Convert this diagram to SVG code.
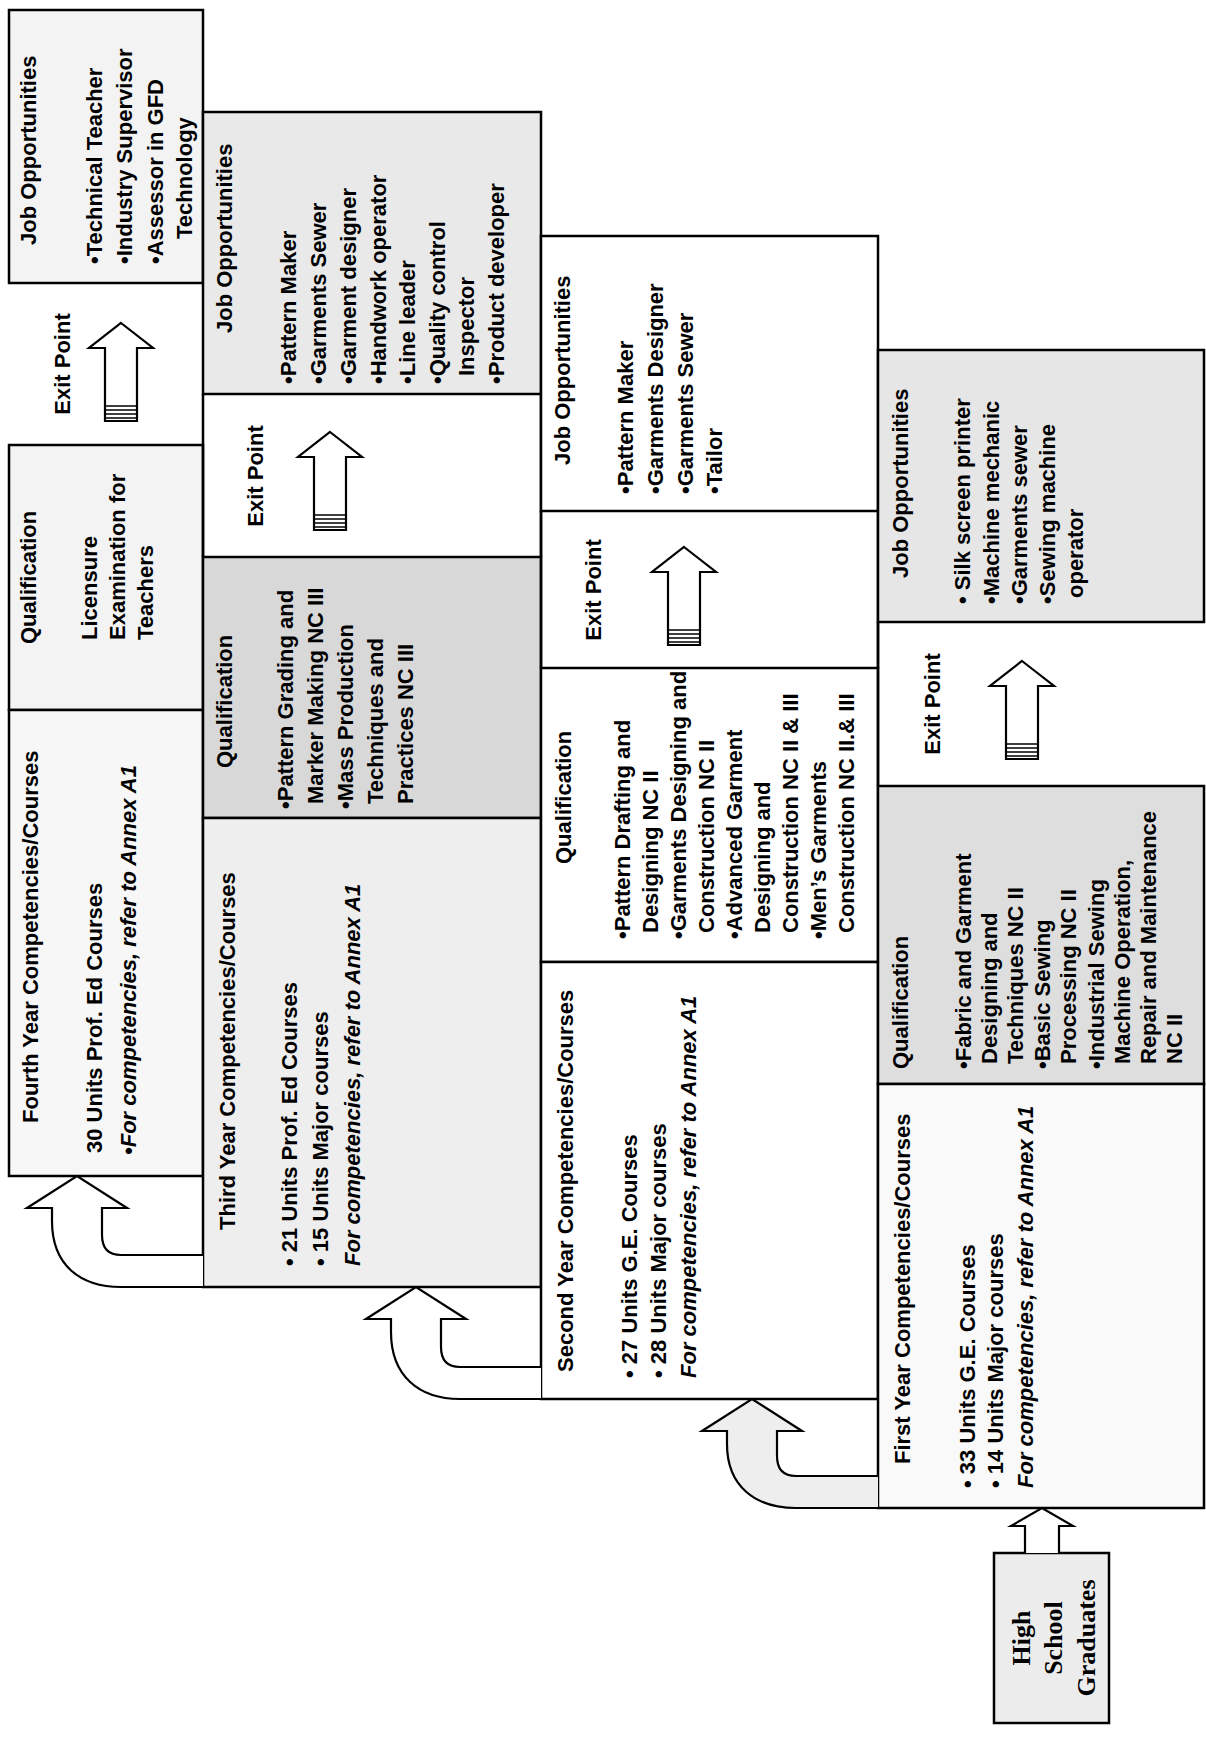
<svg xmlns="http://www.w3.org/2000/svg" xmlns:xlink="http://www.w3.org/1999/xlink" width="1206" height="1755" viewBox="0 0 1206 1755">
<style>
.box{stroke:#000;stroke-width:2.5}
.ln{stroke:#000;stroke-width:2.5;fill:none}
.t{font-family:"Liberation Sans",Arial,sans-serif;font-weight:bold;font-size:22px;fill:#000}
.i{font-style:italic}
.m{text-anchor:middle}
.hs{font-family:"Liberation Serif","Times New Roman",serif;font-weight:bold;font-size:26px;fill:#000;text-anchor:middle}
.arr{fill:#fff;stroke:#000;stroke-width:2.2;stroke-linejoin:miter}
.arrg{fill:#eeeeee;stroke:#000;stroke-width:2.2}
.str{stroke:#000;stroke-width:1.6}
</style>
<defs>
<g id="exitArrow">
<path class="arr" d="M0,0 L32,25 L16,25 L16,98 L-16,98 L-16,25 L-32,25 Z"/>
<path class="str" d="M-16,83 H16 M-16,87 H16 M-16,91 H16 M-16,95 H16"/>
</g>
</defs>
<rect width="1206" height="1755" fill="#fff"/>

<!-- Column 4 (Fourth year) -->
<g id="y4-job">
<rect class="box" x="9" y="10" width="194" height="273" fill="#f3f3f3"/>
<g transform="translate(9,283) rotate(-90)">
<text class="t" x="38" y="27">Job Opportunities</text>
<text class="t" x="19" y="93">•Technical Teacher</text>
<text class="t" x="19" y="123">•Industry Supervisor</text>
<text class="t" x="19" y="154">•Assessor in GFD</text>
<text class="t" x="44" y="183">Technology</text>
</g>
</g>
<g id="y4-exit">
<text class="t m" transform="translate(70,364) rotate(-90)">Exit Point</text>
</g>
<g id="y4-qual">
<rect class="box" x="9" y="445" width="194" height="265" fill="#f3f3f3"/>
<g transform="translate(9,710) rotate(-90)">
<text class="t" x="66" y="27">Qualification</text>
<text class="t" x="70" y="88">Licensure</text>
<text class="t" x="70" y="116">Examination for</text>
<text class="t" x="70" y="144">Teachers</text>
</g>
</g>
<g id="y4-courses">
<rect class="box" x="9" y="710" width="194" height="466" fill="#f7f7f7"/>
<g transform="translate(9,1176) rotate(-90)">
<text class="t" x="53" y="29">Fourth Year Competencies/Courses</text>
<text class="t" x="23" y="93">30 Units Prof. Ed Courses</text>
<text class="t i" x="21" y="127">•For competencies, refer to Annex A1</text>
</g>
</g>

<!-- Column 3 (Third year) -->
<g id="y3-job">
<rect class="box" x="203" y="112" width="338" height="282" fill="#e9e9e9"/>
<g transform="translate(203,394) rotate(-90)">
<text class="t" x="61" y="29">Job Opportunities</text>
<text class="t" x="10" y="93">•Pattern Maker</text>
<text class="t" x="10" y="123">•Garments Sewer</text>
<text class="t" x="10" y="153">•Garment designer</text>
<text class="t" x="10" y="183">•Handwork operator</text>
<text class="t" x="10" y="212">•Line leader</text>
<text class="t" x="10" y="242">•Quality control</text>
<text class="t" x="18" y="271">Inspector</text>
<text class="t" x="10" y="301">•Product developer</text>
</g>
</g>
<g id="y3-exit">
<path class="ln" d="M203,394 V557 M541,394 V557"/>
<text class="t m" transform="translate(263,476) rotate(-90)">Exit Point</text>
</g>
<g id="y3-qual">
<rect class="box" x="203" y="557" width="338" height="261" fill="#d8d8d8"/>
<g transform="translate(203,818) rotate(-90)">
<text class="t" x="50" y="29">Qualification</text>
<text class="t" x="9" y="90">•Pattern Grading and</text>
<text class="t" x="14" y="120">Marker Making NC III</text>
<text class="t" x="9" y="150">•Mass Production</text>
<text class="t" x="14" y="180">Techniques and</text>
<text class="t" x="14" y="210">Practices NC III</text>
</g>
</g>
<g id="y3-courses">
<rect class="box" x="203" y="818" width="338" height="469" fill="#eeeeee"/>
<g transform="translate(203,1287) rotate(-90)">
<text class="t" x="57" y="32">Third Year Competencies/Courses</text>
<text class="t" x="21" y="94">• 21 Units Prof. Ed Courses</text>
<text class="t" x="21" y="125">• 15 Units Major courses</text>
<text class="t i" x="21" y="157">For competencies, refer to Annex A1</text>
</g>
</g>

<!-- Column 2 (Second year) -->
<g id="y2-job">
<rect class="box" x="541" y="236" width="337" height="275" fill="#fff"/>
<g transform="translate(541,511) rotate(-90)">
<text class="t" x="46" y="29">Job Opportunities</text>
<text class="t" x="17" y="92">•Pattern Maker</text>
<text class="t" x="17" y="122">•Garments Designer</text>
<text class="t" x="17" y="152">•Garments Sewer</text>
<text class="t" x="17" y="181">•Tailor</text>
</g>
</g>
<g id="y2-exit">
<path class="ln" d="M541,511 V668 M878,511 V668"/>
<text class="t m" transform="translate(601,590) rotate(-90)">Exit Point</text>
</g>
<g id="y2-qual">
<rect class="box" x="541" y="668" width="337" height="294" fill="#fff"/>
<g transform="translate(541,962) rotate(-90)">
<text class="t" x="98" y="30">Qualification</text>
<text class="t" x="23" y="89">•Pattern Drafting and</text>
<text class="t" x="29" y="117">Designing NC II</text>
<text class="t" x="23" y="145">•Garments Designing and</text>
<text class="t" x="29" y="173">Construction NC II</text>
<text class="t" x="23" y="201">•Advanced Garment</text>
<text class="t" x="29" y="229">Designing and</text>
<text class="t" x="29" y="257">Construction NC II &amp; III</text>
<text class="t" x="23" y="285">•Men’s Garments</text>
<text class="t" x="29" y="313">Construction NC II.&amp; III</text>
</g>
</g>
<g id="y2-courses">
<rect class="box" x="541" y="962" width="337" height="437" fill="#fff"/>
<g transform="translate(541,1399) rotate(-90)">
<text class="t" x="27" y="32">Second Year Competencies/Courses</text>
<text class="t" x="21" y="96">• 27 Units G.E. Courses</text>
<text class="t" x="21" y="125">• 28 Units Major courses</text>
<text class="t i" x="21" y="155">For competencies, refer to Annex A1</text>
</g>
</g>

<!-- Column 1 (First year) -->
<g id="y1-job">
<rect class="box" x="878" y="350" width="326" height="272" fill="#e6e6e6"/>
<g transform="translate(878,622) rotate(-90)">
<text class="t" x="44" y="30">Job Opportunities</text>
<text class="t" x="18" y="92">• Silk screen printer</text>
<text class="t" x="18" y="121">•Machine mechanic</text>
<text class="t" x="18" y="149">•Garments sewer</text>
<text class="t" x="18" y="177">•Sewing machine</text>
<text class="t" x="24" y="205">operator</text>
</g>
</g>
<g id="y1-exit">
<path class="ln" d="M878,622 V786"/>
<text class="t m" transform="translate(940,704) rotate(-90)">Exit Point</text>
</g>
<g id="y1-qual">
<rect class="box" x="878" y="786" width="326" height="298" fill="#dedede"/>
<g transform="translate(878,1084) rotate(-90)">
<text class="t" x="15" y="30">Qualification</text>
<text class="t" x="15" y="93">•Fabric and Garment</text>
<text class="t" x="20" y="119">Designing and</text>
<text class="t" x="20" y="145">Techniques NC II</text>
<text class="t" x="15" y="172">•Basic Sewing</text>
<text class="t" x="20" y="198">Processing NC II</text>
<text class="t" x="15" y="226">•Industrial Sewing</text>
<text class="t" x="20" y="252">Machine Operation,</text>
<text class="t" x="20" y="278">Repair and Maintenance</text>
<text class="t" x="20" y="304">NC II</text>
</g>
</g>
<g id="y1-courses">
<rect class="box" x="878" y="1084" width="326" height="424" fill="#f9f9f9"/>
<g transform="translate(878,1508) rotate(-90)">
<text class="t" x="44" y="32">First Year Competencies/Courses</text>
<text class="t" x="20" y="97">• 33 Units G.E. Courses</text>
<text class="t" x="20" y="125">• 14 Units Major courses</text>
<text class="t i" x="20" y="155">For competencies, refer to Annex A1</text>
</g>
</g>

<g id="high-school">
<rect class="box" x="994" y="1553" width="115" height="170" fill="#ececec"/>
<g transform="translate(994,1638) rotate(-90)">
<text class="hs" x="0" y="36">High</text>
<text class="hs" x="0" y="68">School</text>
<text class="hs" x="0" y="101">Graduates</text>
</g>
</g>

<!-- Connectors -->
<g id="connectors">
<use xlink:href="#exitArrow" href="#exitArrow" x="121" y="323"/>
<use xlink:href="#exitArrow" href="#exitArrow" x="330" y="432"/>
<use xlink:href="#exitArrow" href="#exitArrow" x="684" y="547"/>
<use xlink:href="#exitArrow" href="#exitArrow" x="1022" y="661"/>
<path class="arr" d="M203,1255 L121,1255 Q102,1255 102,1235 L102,1208 L127,1208 L77,1176 L27,1208 L52,1208 L52,1221 C52,1265 80,1287 121,1287 L203,1287"/>
<path class="arr" d="M541,1367 L460,1367 Q441,1367 441,1347 L441,1319 L466,1319 L416,1287 L366,1319 L391,1319 L391,1332 C391,1376 419,1399 460,1399 L541,1399"/>
<path class="arrg" d="M878,1476 L796,1476 Q777,1476 777,1456 L777,1431 L802,1431 L752,1399 L702,1431 L727,1431 L727,1444 C727,1486 755,1508 796,1508 L878,1508"/>
<path class="arr" d="M1025,1553 L1025,1526 L1011,1526 L1042,1508 L1073,1526 L1059,1526 L1059,1553"/>
</g>
</svg>
